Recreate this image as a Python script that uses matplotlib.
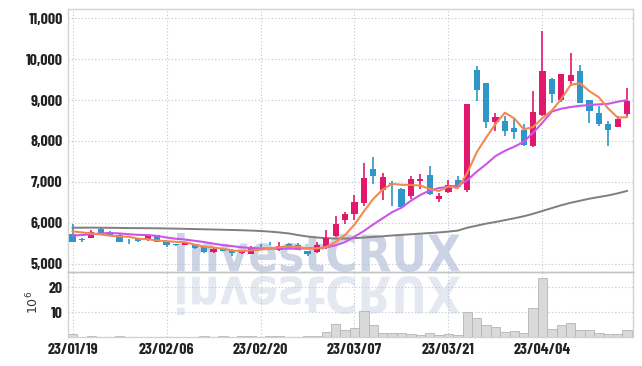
import matplotlib
matplotlib.use("Agg")
import matplotlib.pyplot as plt
import matplotlib.transforms as mtransforms
from matplotlib.textpath import TextPath
from matplotlib.patches import PathPatch
from matplotlib.font_manager import FontProperties
from matplotlib.ticker import FuncFormatter
import numpy as np

# daily candles (60 trading days)
opens = [5730, 5600, 5630, 5850, 5780, 5710, 5555, 5610, 5590, 5705,
         5530, 5470, 5460, 5470, 5405, 5285, 5380, 5340, 5260, 5243,
         5440, 5490, 5333, 5485, 5460, 5315, 5280, 5380, 5675, 6080,
         6215, 6490, 7310, 6810, 6975, 6825, 6660, 7030, 7180, 6570,
         6760, 7050, 6810, 9745, 9420, 8460, 8490, 8320, 8260, 7870,
         8640, 9525, 9000, 9460, 9710, 9000, 8690, 8405, 8330, 8670]
highs = [5970, 5640, 5835, 5870, 5790, 5720, 5600, 5630, 5700, 5710,
         5560, 5490, 5530, 5480, 5410, 5420, 5390, 5360, 5340, 5440,
         5470, 5540, 5540, 5500, 5510, 5320, 5520, 5820, 6160, 6260,
         6680, 7450, 7600, 7210, 7010, 6840, 7150, 7190, 7390, 6720,
         7050, 7150, 8910, 9830, 9420, 8690, 8600, 8570, 8405, 9220,
         10680, 9540, 9650, 10150, 9865, 9000, 8860, 8490, 8610, 9300]
lows = [5530, 5540, 5620, 5700, 5680, 5520, 5490, 5520, 5560, 5520,
        5420, 5440, 5450, 5370, 5270, 5270, 5300, 5200, 5240, 5240,
        5400, 5450, 5320, 5380, 5330, 5200, 5270, 5370, 5660, 5980,
        6060, 6420, 6950, 6550, 6420, 6380, 6580, 6825, 6690, 6520,
        6740, 6850, 6750, 8975, 8325, 8245, 8110, 8040, 7880, 7860,
        8620, 8940, 8950, 9345, 8920, 8430, 8370, 7880, 8330, 8600]
closes = [5535, 5585, 5780, 5745, 5690, 5530, 5545, 5550, 5675, 5535,
          5450, 5460, 5505, 5380, 5285, 5350, 5315, 5270, 5325, 5380,
          5425, 5470, 5430, 5385, 5340, 5245, 5460, 5625, 5975, 6215,
          6500, 7090, 7150, 7110, 6920, 6380, 7070, 7070, 6710, 6665,
          6930, 6865, 8910, 9245, 8460, 8590, 8250, 8230, 7900, 8720,
          9710, 9160, 9650, 9625, 8920, 8730, 8420, 8260, 8530, 8970]

# moving averages as drawn
ma_short = [5790, 5765, 5740, 5715, 5685, 5667, 5658, 5612, 5598, 5567,
            5551, 5534, 5525, 5466, 5416, 5396, 5367, 5320, 5309, 5328,
            5343, 5374, 5406, 5418, 5410, 5374, 5372, 5411, 5529, 5704,
            5955, 6281, 6586, 6813, 6954, 6930, 6926, 6910, 6830, 6779,
            6889, 6848, 7216, 7723, 8082, 8414, 8691, 8555, 8286, 8338,
            8562, 8744, 9028, 9373, 9413, 9217, 9069, 8791, 8572, 8582]
ma_mid = [5690, 5700, 5720, 5740, 5750, 5740, 5720, 5705, 5700, 5680,
          5640, 5610, 5590, 5560, 5530, 5490, 5455, 5430, 5400, 5385,
          5375, 5370, 5368, 5368, 5370, 5375, 5380, 5400, 5450, 5530,
          5660, 5800, 5960, 6110, 6260, 6370, 6540, 6680, 6790, 6850,
          6880, 6910, 7040, 7250, 7430, 7630, 7760, 7860, 7980, 8200,
          8450, 8720, 8790, 8830, 8860, 8880, 8895, 8910, 8960, 9000]
ma_long = [5880, 5880, 5882, 5880, 5878, 5875, 5872, 5870, 5868, 5866,
           5862, 5858, 5852, 5847, 5842, 5836, 5830, 5825, 5818, 5810,
           5800, 5785, 5765, 5740, 5700, 5665, 5640, 5625, 5615, 5615,
           5625, 5640, 5655, 5670, 5690, 5705, 5720, 5735, 5750, 5765,
           5785, 5810, 5880, 5930, 5980, 6020, 6065, 6110, 6160, 6220,
           6290, 6360, 6430, 6490, 6540, 6590, 6630, 6670, 6720, 6780]

# volume in millions
volume = [1.2, 0.3, 0.4, 0.3, 0.3, 0.4, 0.3, 0.2, 0.3, 0.3,
          0.3, 0.2, 0.3, 0.3, 0.4, 0.3, 0.5, 0.3, 0.4, 0.5,
          0.3, 0.5, 0.4, 0.3, 0.3, 0.4, 0.6, 2.0, 5.4, 3.0,
          3.7, 10.7, 4.8, 1.6, 1.6, 1.6, 1.5, 0.9, 1.6, 0.9,
          1.2, 1.1, 10.3, 7.9, 5.1, 4.0, 2.3, 2.7, 1.9, 11.6,
          23.9, 3.5, 5.1, 5.9, 3.1, 3.1, 1.9, 1.5, 1.5, 3.1]

tick_pos = [0, 10, 20, 30, 40, 50]
tick_labels = ["23/01/19", "23/02/06", "23/02/20", "23/03/07", "23/03/21", "23/04/04"]

UP = "#e2186c"
DOWN = "#2f96c8"
GRID = "#bfc5d4"
SPINE = "#d2d2d2"
label_font = ["Barlow Condensed", "DejaVu Sans"]

fig = plt.figure(figsize=(6.42, 3.66), dpi=100, facecolor="white")
W, H = 642, 366
left, right = 68.3 / W, 632.7 / W
ax = fig.add_axes([left, (H - 272.3) / H, right - left, (272.3 - 9) / H])
axv = fig.add_axes([left, (H - 337.3) / H, right - left, (337.3 - 272.3) / H], sharex=ax)
for a in (ax, axv):
    a.set_facecolor("none")

# watermark with reflection, drawn in pixel coordinates behind the axes
tp = TextPath((0, 0), "investCRUX", size=100,
              prop=FontProperties(family="DejaVu Sans", weight="bold"))
bb = tp.get_extents()
sx = (460 - 177) / bb.width
sy = (H - 233 - (H - 272)) / bb.height
tr = mtransforms.Affine2D().translate(-bb.x0, -bb.y0).scale(sx, sy).translate(177, H - 272)
fig.add_artist(PathPatch(tp, transform=tr, facecolor="#ccd3e4", edgecolor="none", zorder=-1))
tr2 = mtransforms.Affine2D().translate(-bb.x0, -bb.y0).scale(sx, -sy).translate(177, H - 276)
fig.add_artist(PathPatch(tp, transform=tr2, facecolor="#e4e8f0", edgecolor="none", zorder=-1))

x = np.arange(len(closes))
o = np.array(opens)
c = np.array(closes)
colors = [UP if cc > oo else DOWN for oo, cc in zip(o, c)]
body_low = np.minimum(o, c)
body_h = np.maximum(np.abs(c - o), 18)

ax.plot(x, ma_long, color="#7f7f7f", lw=1.4, zorder=2)
ax.vlines(x, lows, highs, color=colors, lw=1.2, zorder=3)
ax.bar(x, body_h, bottom=body_low, width=0.66, color=colors, zorder=4)
ax.plot(x, ma_mid, color="#cc55e8", lw=1.5, zorder=5)
ax.plot(x, ma_short, color="#f08a50", lw=1.5, zorder=5)

ax.set_xlim(-0.45, 59.6)
ax.set_ylim(4790, 11227)
ax.set_yticks(np.arange(5000, 11001, 1000))
ax.yaxis.set_major_formatter(FuncFormatter(lambda v, p: f"{v:,.0f}"))
ax.set_xticks(tick_pos)
ax.tick_params(axis="x", labelbottom=False, length=0)

axv.bar(x, volume, width=1.0, color="#d9d9d9", edgecolor="#b5b5b5", lw=0.6, zorder=2)
axv.set_ylim(0, 26.0)
axv.set_yticks([10, 20])
axv.set_xticks(tick_pos)
axv.set_xticklabels(tick_labels)

for a in (ax, axv):
    a.grid(True, linestyle=(0, (1, 2)), color=GRID, lw=0.8)
    a.set_axisbelow(True)
    a.tick_params(axis="y", length=0, pad=4)
    a.tick_params(axis="x", length=0, pad=4)
    for s in a.spines.values():
        s.set_color(SPINE)
        s.set_linewidth(1.0)
    for lab in a.get_yticklabels() + a.get_xticklabels():
        lab.set_fontfamily(label_font)
        lab.set_fontweight("bold")
        lab.set_fontsize(11.5)
        lab.set_color("#222222")
ax.spines["bottom"].set_color("#c4c4c4")
axv.spines["top"].set_color("#c4c4c4")

fig.text(33 / W, 1 - 302 / H, "$10^6$", rotation=90, ha="center", va="center",
         fontsize=9, color="#333333")

fig.savefig("out.png", dpi=100, facecolor="white")
